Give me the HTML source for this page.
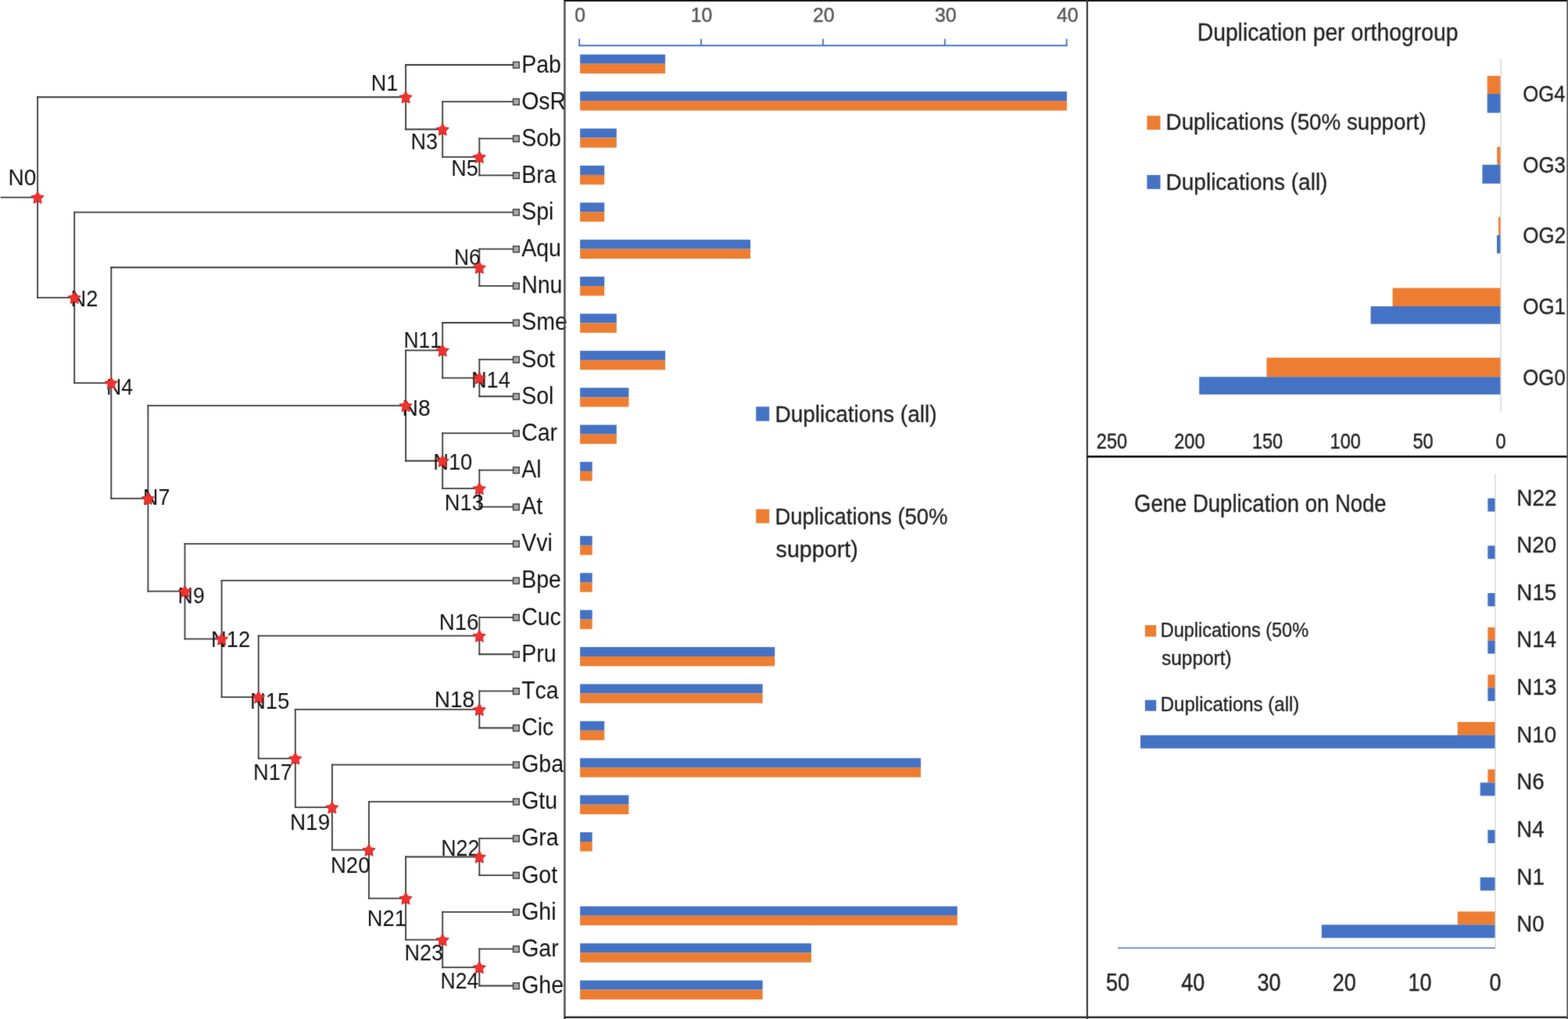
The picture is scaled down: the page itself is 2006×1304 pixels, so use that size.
<!DOCTYPE html>
<html><head><meta charset="utf-8"><title>Gene duplication figure</title>
<style>
html,body{margin:0;padding:0;background:#fff;}
body{width:2006px;height:1304px;overflow:hidden;}
svg{display:block;}
#wrap{width:2006px;height:1304px;}
text{font-family:"Liberation Sans",Arial,sans-serif;font-kerning:none;}
</style></head>
<body>
<div id="wrap">
<svg width="2006" height="1304" viewBox="0 0 2006 1304">
<defs><filter id="soft" x="0" y="0" width="1" height="1" color-interpolation-filters="sRGB"><feConvolveMatrix order="3" kernelMatrix="0.0144 0.0912 0.0144 0.0912 0.5776 0.0912 0.0144 0.0912 0.0144" edgeMode="duplicate"/></filter></defs>
<g filter="url(#soft)">
<rect width="2006" height="1304" fill="#fff"/>
<g stroke-linecap="square">
<line x1="1.50" y1="252.53" x2="48.10" y2="252.53" stroke="#383838" stroke-width="1.8"/>
<line x1="48.10" y1="124.25" x2="48.10" y2="380.81" stroke="#383838" stroke-width="1.8"/>
<line x1="48.10" y1="124.25" x2="519.10" y2="124.25" stroke="#383838" stroke-width="1.8"/>
<line x1="48.10" y1="380.81" x2="95.20" y2="380.81" stroke="#383838" stroke-width="1.8"/>
<line x1="519.10" y1="83.00" x2="519.10" y2="165.50" stroke="#383838" stroke-width="1.8"/>
<line x1="519.10" y1="83.00" x2="656.40" y2="83.00" stroke="#383838" stroke-width="1.8"/>
<line x1="519.10" y1="165.50" x2="566.20" y2="165.50" stroke="#383838" stroke-width="1.8"/>
<line x1="566.20" y1="130.14" x2="566.20" y2="200.85" stroke="#383838" stroke-width="1.8"/>
<line x1="566.20" y1="130.14" x2="656.40" y2="130.14" stroke="#383838" stroke-width="1.8"/>
<line x1="566.20" y1="200.85" x2="613.30" y2="200.85" stroke="#383838" stroke-width="1.8"/>
<line x1="613.30" y1="177.28" x2="613.30" y2="224.42" stroke="#383838" stroke-width="1.8"/>
<line x1="613.30" y1="177.28" x2="656.40" y2="177.28" stroke="#383838" stroke-width="1.8"/>
<line x1="613.30" y1="224.42" x2="656.40" y2="224.42" stroke="#383838" stroke-width="1.8"/>
<line x1="95.20" y1="271.56" x2="95.20" y2="490.07" stroke="#383838" stroke-width="1.8"/>
<line x1="95.20" y1="271.56" x2="656.40" y2="271.56" stroke="#383838" stroke-width="1.8"/>
<line x1="95.20" y1="490.07" x2="142.30" y2="490.07" stroke="#383838" stroke-width="1.8"/>
<line x1="142.30" y1="342.27" x2="142.30" y2="637.86" stroke="#383838" stroke-width="1.8"/>
<line x1="142.30" y1="342.27" x2="613.30" y2="342.27" stroke="#383838" stroke-width="1.8"/>
<line x1="142.30" y1="637.86" x2="189.40" y2="637.86" stroke="#383838" stroke-width="1.8"/>
<line x1="613.30" y1="318.70" x2="613.30" y2="365.84" stroke="#383838" stroke-width="1.8"/>
<line x1="613.30" y1="318.70" x2="656.40" y2="318.70" stroke="#383838" stroke-width="1.8"/>
<line x1="613.30" y1="365.84" x2="656.40" y2="365.84" stroke="#383838" stroke-width="1.8"/>
<line x1="189.40" y1="519.05" x2="189.40" y2="756.68" stroke="#383838" stroke-width="1.8"/>
<line x1="189.40" y1="519.05" x2="519.10" y2="519.05" stroke="#383838" stroke-width="1.8"/>
<line x1="189.40" y1="756.68" x2="236.50" y2="756.68" stroke="#383838" stroke-width="1.8"/>
<line x1="519.10" y1="448.34" x2="519.10" y2="589.75" stroke="#383838" stroke-width="1.8"/>
<line x1="519.10" y1="448.34" x2="566.20" y2="448.34" stroke="#383838" stroke-width="1.8"/>
<line x1="519.10" y1="589.75" x2="566.20" y2="589.75" stroke="#383838" stroke-width="1.8"/>
<line x1="566.20" y1="412.98" x2="566.20" y2="483.69" stroke="#383838" stroke-width="1.8"/>
<line x1="566.20" y1="412.98" x2="656.40" y2="412.98" stroke="#383838" stroke-width="1.8"/>
<line x1="566.20" y1="483.69" x2="613.30" y2="483.69" stroke="#383838" stroke-width="1.8"/>
<line x1="613.30" y1="460.12" x2="613.30" y2="507.26" stroke="#383838" stroke-width="1.8"/>
<line x1="613.30" y1="460.12" x2="656.40" y2="460.12" stroke="#383838" stroke-width="1.8"/>
<line x1="613.30" y1="507.26" x2="656.40" y2="507.26" stroke="#383838" stroke-width="1.8"/>
<line x1="566.20" y1="554.40" x2="566.20" y2="625.11" stroke="#383838" stroke-width="1.8"/>
<line x1="566.20" y1="554.40" x2="656.40" y2="554.40" stroke="#383838" stroke-width="1.8"/>
<line x1="566.20" y1="625.11" x2="613.30" y2="625.11" stroke="#383838" stroke-width="1.8"/>
<line x1="613.30" y1="601.54" x2="613.30" y2="648.68" stroke="#383838" stroke-width="1.8"/>
<line x1="613.30" y1="601.54" x2="656.40" y2="601.54" stroke="#383838" stroke-width="1.8"/>
<line x1="613.30" y1="648.68" x2="656.40" y2="648.68" stroke="#383838" stroke-width="1.8"/>
<line x1="236.50" y1="695.82" x2="236.50" y2="817.54" stroke="#383838" stroke-width="1.8"/>
<line x1="236.50" y1="695.82" x2="656.40" y2="695.82" stroke="#383838" stroke-width="1.8"/>
<line x1="236.50" y1="817.54" x2="283.60" y2="817.54" stroke="#383838" stroke-width="1.8"/>
<line x1="283.60" y1="742.96" x2="283.60" y2="892.11" stroke="#383838" stroke-width="1.8"/>
<line x1="283.60" y1="742.96" x2="656.40" y2="742.96" stroke="#383838" stroke-width="1.8"/>
<line x1="283.60" y1="892.11" x2="330.70" y2="892.11" stroke="#383838" stroke-width="1.8"/>
<line x1="330.70" y1="813.67" x2="330.70" y2="970.56" stroke="#383838" stroke-width="1.8"/>
<line x1="330.70" y1="813.67" x2="613.30" y2="813.67" stroke="#383838" stroke-width="1.8"/>
<line x1="330.70" y1="970.56" x2="377.80" y2="970.56" stroke="#383838" stroke-width="1.8"/>
<line x1="613.30" y1="790.10" x2="613.30" y2="837.24" stroke="#383838" stroke-width="1.8"/>
<line x1="613.30" y1="790.10" x2="656.40" y2="790.10" stroke="#383838" stroke-width="1.8"/>
<line x1="613.30" y1="837.24" x2="656.40" y2="837.24" stroke="#383838" stroke-width="1.8"/>
<line x1="377.80" y1="907.95" x2="377.80" y2="1033.17" stroke="#383838" stroke-width="1.8"/>
<line x1="377.80" y1="907.95" x2="613.30" y2="907.95" stroke="#383838" stroke-width="1.8"/>
<line x1="377.80" y1="1033.17" x2="424.90" y2="1033.17" stroke="#383838" stroke-width="1.8"/>
<line x1="613.30" y1="884.38" x2="613.30" y2="931.52" stroke="#383838" stroke-width="1.8"/>
<line x1="613.30" y1="884.38" x2="656.40" y2="884.38" stroke="#383838" stroke-width="1.8"/>
<line x1="613.30" y1="931.52" x2="656.40" y2="931.52" stroke="#383838" stroke-width="1.8"/>
<line x1="424.90" y1="978.66" x2="424.90" y2="1087.67" stroke="#383838" stroke-width="1.8"/>
<line x1="424.90" y1="978.66" x2="656.40" y2="978.66" stroke="#383838" stroke-width="1.8"/>
<line x1="424.90" y1="1087.67" x2="472.00" y2="1087.67" stroke="#383838" stroke-width="1.8"/>
<line x1="472.00" y1="1025.80" x2="472.00" y2="1149.54" stroke="#383838" stroke-width="1.8"/>
<line x1="472.00" y1="1025.80" x2="656.40" y2="1025.80" stroke="#383838" stroke-width="1.8"/>
<line x1="472.00" y1="1149.54" x2="519.10" y2="1149.54" stroke="#383838" stroke-width="1.8"/>
<line x1="519.10" y1="1096.51" x2="519.10" y2="1202.58" stroke="#383838" stroke-width="1.8"/>
<line x1="519.10" y1="1096.51" x2="613.30" y2="1096.51" stroke="#383838" stroke-width="1.8"/>
<line x1="519.10" y1="1202.58" x2="566.20" y2="1202.58" stroke="#383838" stroke-width="1.8"/>
<line x1="613.30" y1="1072.94" x2="613.30" y2="1120.08" stroke="#383838" stroke-width="1.8"/>
<line x1="613.30" y1="1072.94" x2="656.40" y2="1072.94" stroke="#383838" stroke-width="1.8"/>
<line x1="613.30" y1="1120.08" x2="656.40" y2="1120.08" stroke="#383838" stroke-width="1.8"/>
<line x1="566.20" y1="1167.22" x2="566.20" y2="1237.93" stroke="#383838" stroke-width="1.8"/>
<line x1="566.20" y1="1167.22" x2="656.40" y2="1167.22" stroke="#383838" stroke-width="1.8"/>
<line x1="566.20" y1="1237.93" x2="613.30" y2="1237.93" stroke="#383838" stroke-width="1.8"/>
<line x1="613.30" y1="1214.36" x2="613.30" y2="1261.50" stroke="#383838" stroke-width="1.8"/>
<line x1="613.30" y1="1214.36" x2="656.40" y2="1214.36" stroke="#383838" stroke-width="1.8"/>
<line x1="613.30" y1="1261.50" x2="656.40" y2="1261.50" stroke="#383838" stroke-width="1.8"/>
</g>
<rect x="656.50" y="79.30" width="7.8" height="7.8" fill="#aaa" stroke="#3a3a3a" stroke-width="1.4"/>
<rect x="656.50" y="126.44" width="7.8" height="7.8" fill="#aaa" stroke="#3a3a3a" stroke-width="1.4"/>
<rect x="656.50" y="173.58" width="7.8" height="7.8" fill="#aaa" stroke="#3a3a3a" stroke-width="1.4"/>
<rect x="656.50" y="220.72" width="7.8" height="7.8" fill="#aaa" stroke="#3a3a3a" stroke-width="1.4"/>
<rect x="656.50" y="267.86" width="7.8" height="7.8" fill="#aaa" stroke="#3a3a3a" stroke-width="1.4"/>
<rect x="656.50" y="315.00" width="7.8" height="7.8" fill="#aaa" stroke="#3a3a3a" stroke-width="1.4"/>
<rect x="656.50" y="362.14" width="7.8" height="7.8" fill="#aaa" stroke="#3a3a3a" stroke-width="1.4"/>
<rect x="656.50" y="409.28" width="7.8" height="7.8" fill="#aaa" stroke="#3a3a3a" stroke-width="1.4"/>
<rect x="656.50" y="456.42" width="7.8" height="7.8" fill="#aaa" stroke="#3a3a3a" stroke-width="1.4"/>
<rect x="656.50" y="503.56" width="7.8" height="7.8" fill="#aaa" stroke="#3a3a3a" stroke-width="1.4"/>
<rect x="656.50" y="550.70" width="7.8" height="7.8" fill="#aaa" stroke="#3a3a3a" stroke-width="1.4"/>
<rect x="656.50" y="597.84" width="7.8" height="7.8" fill="#aaa" stroke="#3a3a3a" stroke-width="1.4"/>
<rect x="656.50" y="644.98" width="7.8" height="7.8" fill="#aaa" stroke="#3a3a3a" stroke-width="1.4"/>
<rect x="656.50" y="692.12" width="7.8" height="7.8" fill="#aaa" stroke="#3a3a3a" stroke-width="1.4"/>
<rect x="656.50" y="739.26" width="7.8" height="7.8" fill="#aaa" stroke="#3a3a3a" stroke-width="1.4"/>
<rect x="656.50" y="786.40" width="7.8" height="7.8" fill="#aaa" stroke="#3a3a3a" stroke-width="1.4"/>
<rect x="656.50" y="833.54" width="7.8" height="7.8" fill="#aaa" stroke="#3a3a3a" stroke-width="1.4"/>
<rect x="656.50" y="880.68" width="7.8" height="7.8" fill="#aaa" stroke="#3a3a3a" stroke-width="1.4"/>
<rect x="656.50" y="927.82" width="7.8" height="7.8" fill="#aaa" stroke="#3a3a3a" stroke-width="1.4"/>
<rect x="656.50" y="974.96" width="7.8" height="7.8" fill="#aaa" stroke="#3a3a3a" stroke-width="1.4"/>
<rect x="656.50" y="1022.10" width="7.8" height="7.8" fill="#aaa" stroke="#3a3a3a" stroke-width="1.4"/>
<rect x="656.50" y="1069.24" width="7.8" height="7.8" fill="#aaa" stroke="#3a3a3a" stroke-width="1.4"/>
<rect x="656.50" y="1116.38" width="7.8" height="7.8" fill="#aaa" stroke="#3a3a3a" stroke-width="1.4"/>
<rect x="656.50" y="1163.52" width="7.8" height="7.8" fill="#aaa" stroke="#3a3a3a" stroke-width="1.4"/>
<rect x="656.50" y="1210.66" width="7.8" height="7.8" fill="#aaa" stroke="#3a3a3a" stroke-width="1.4"/>
<rect x="656.50" y="1257.80" width="7.8" height="7.8" fill="#aaa" stroke="#3a3a3a" stroke-width="1.4"/>
<text transform="translate(667.16 92.50) scale(0.92 1)" font-size="31.0" fill="#111">Pab</text>
<text transform="translate(667.16 139.64) scale(0.92 1)" font-size="31.0" fill="#111">OsR</text>
<text transform="translate(667.16 186.78) scale(0.92 1)" font-size="31.0" fill="#111">Sob</text>
<text transform="translate(667.16 233.92) scale(0.92 1)" font-size="31.0" fill="#111">Bra</text>
<text transform="translate(667.16 281.06) scale(0.92 1)" font-size="31.0" fill="#111">Spi</text>
<text transform="translate(667.16 328.20) scale(0.92 1)" font-size="31.0" fill="#111">Aqu</text>
<text transform="translate(667.16 375.34) scale(0.92 1)" font-size="31.0" fill="#111">Nnu</text>
<text transform="translate(667.16 422.48) scale(0.92 1)" font-size="31.0" fill="#111">Sme</text>
<text transform="translate(667.16 469.62) scale(0.92 1)" font-size="31.0" fill="#111">Sot</text>
<text transform="translate(667.16 516.76) scale(0.92 1)" font-size="31.0" fill="#111">Sol</text>
<text transform="translate(667.16 563.90) scale(0.92 1)" font-size="31.0" fill="#111">Car</text>
<text transform="translate(667.16 611.04) scale(0.92 1)" font-size="31.0" fill="#111">Al</text>
<text transform="translate(667.16 658.18) scale(0.92 1)" font-size="31.0" fill="#111">At</text>
<text transform="translate(667.16 705.32) scale(0.92 1)" font-size="31.0" fill="#111">Vvi</text>
<text transform="translate(667.16 752.46) scale(0.92 1)" font-size="31.0" fill="#111">Bpe</text>
<text transform="translate(667.16 799.60) scale(0.92 1)" font-size="31.0" fill="#111">Cuc</text>
<text transform="translate(667.16 846.74) scale(0.92 1)" font-size="31.0" fill="#111">Pru</text>
<text transform="translate(667.16 893.88) scale(0.92 1)" font-size="31.0" fill="#111">Tca</text>
<text transform="translate(667.16 941.02) scale(0.92 1)" font-size="31.0" fill="#111">Cic</text>
<text transform="translate(667.16 988.16) scale(0.92 1)" font-size="31.0" fill="#111">Gba</text>
<text transform="translate(667.16 1035.30) scale(0.92 1)" font-size="31.0" fill="#111">Gtu</text>
<text transform="translate(667.16 1082.44) scale(0.92 1)" font-size="31.0" fill="#111">Gra</text>
<text transform="translate(667.16 1129.58) scale(0.92 1)" font-size="31.0" fill="#111">Got</text>
<text transform="translate(667.16 1176.72) scale(0.92 1)" font-size="31.0" fill="#111">Ghi</text>
<text transform="translate(667.16 1223.86) scale(0.92 1)" font-size="31.0" fill="#111">Gar</text>
<text transform="translate(667.16 1271.00) scale(0.92 1)" font-size="31.0" fill="#111">Ghe</text>
<text transform="translate(10.40 236.80) scale(0.9520 1)" font-size="29.50" fill="#111">N0</text>
<text transform="translate(474.78 116.00) scale(0.9158 1)" font-size="29.50" fill="#111">N1</text>
<text transform="translate(90.57 392.30) scale(0.9229 1)" font-size="29.50" fill="#111">N2</text>
<text transform="translate(525.39 190.50) scale(0.9149 1)" font-size="29.50" fill="#111">N3</text>
<text transform="translate(135.91 504.80) scale(0.9034 1)" font-size="29.50" fill="#111">N4</text>
<text transform="translate(577.19 225.40) scale(0.9133 1)" font-size="29.50" fill="#111">N5</text>
<text transform="translate(580.94 339.00) scale(0.8913 1)" font-size="29.50" fill="#111">N6</text>
<text transform="translate(183.10 646.00) scale(0.9081 1)" font-size="29.50" fill="#111">N7</text>
<text transform="translate(514.48 531.60) scale(0.9586 1)" font-size="29.50" fill="#111">N8</text>
<text transform="translate(227.61 771.80) scale(0.9058 1)" font-size="29.50" fill="#111">N9</text>
<text transform="translate(554.15 601.00) scale(0.9279 1)" font-size="29.50" fill="#111">N10</text>
<text transform="translate(516.53 445.40) scale(0.8954 1)" font-size="29.50" fill="#111">N11</text>
<text transform="translate(270.06 827.80) scale(0.9260 1)" font-size="29.50" fill="#111">N12</text>
<text transform="translate(568.86 653.40) scale(0.9246 1)" font-size="29.50" fill="#111">N13</text>
<text transform="translate(602.97 495.50) scale(0.9226 1)" font-size="29.50" fill="#111">N14</text>
<text transform="translate(319.95 906.60) scale(0.9315 1)" font-size="29.50" fill="#111">N15</text>
<text transform="translate(561.73 805.90) scale(0.9385 1)" font-size="29.50" fill="#111">N16</text>
<text transform="translate(323.96 997.90) scale(0.9241 1)" font-size="29.50" fill="#111">N17</text>
<text transform="translate(555.80 905.20) scale(0.9501 1)" font-size="29.50" fill="#111">N18</text>
<text transform="translate(370.91 1062.30) scale(0.9483 1)" font-size="29.50" fill="#111">N19</text>
<text transform="translate(422.94 1117.00) scale(0.9338 1)" font-size="29.50" fill="#111">N20</text>
<text transform="translate(469.76 1184.70) scale(0.9272 1)" font-size="29.50" fill="#111">N21</text>
<text transform="translate(564.20 1094.50) scale(0.9081 1)" font-size="29.50" fill="#111">N22</text>
<text transform="translate(517.38 1229.30) scale(0.9167 1)" font-size="29.50" fill="#111">N23</text>
<text transform="translate(563.62 1264.50) scale(0.8990 1)" font-size="29.50" fill="#111">N24</text>
<polygon points="48.10,244.83 50.70,249.75 56.18,250.70 52.30,254.70 53.10,260.21 48.10,257.75 43.10,260.21 43.90,254.70 40.02,250.70 45.50,249.75" fill="#ee3430" stroke="#d41a1a" stroke-width="0.9" stroke-linejoin="miter"/>
<polygon points="519.10,116.55 521.70,121.47 527.18,122.42 523.30,126.41 524.10,131.92 519.10,129.47 514.10,131.92 514.90,126.41 511.02,122.42 516.50,121.47" fill="#ee3430" stroke="#d41a1a" stroke-width="0.9" stroke-linejoin="miter"/>
<polygon points="566.20,157.80 568.80,162.72 574.28,163.67 570.40,167.66 571.20,173.17 566.20,170.72 561.20,173.17 562.00,167.66 558.12,163.67 563.60,162.72" fill="#ee3430" stroke="#d41a1a" stroke-width="0.9" stroke-linejoin="miter"/>
<polygon points="613.30,193.15 615.90,198.07 621.38,199.02 617.50,203.02 618.30,208.53 613.30,206.07 608.30,208.53 609.10,203.02 605.22,199.02 610.70,198.07" fill="#ee3430" stroke="#d41a1a" stroke-width="0.9" stroke-linejoin="miter"/>
<polygon points="95.20,373.11 97.80,378.04 103.28,378.99 99.40,382.98 100.20,388.49 95.20,386.03 90.20,388.49 91.00,382.98 87.12,378.99 92.60,378.04" fill="#ee3430" stroke="#d41a1a" stroke-width="0.9" stroke-linejoin="miter"/>
<polygon points="142.30,482.37 144.90,487.29 150.38,488.24 146.50,492.23 147.30,497.74 142.30,495.29 137.30,497.74 138.10,492.23 134.22,488.24 139.70,487.29" fill="#ee3430" stroke="#d41a1a" stroke-width="0.9" stroke-linejoin="miter"/>
<polygon points="613.30,334.57 615.90,339.49 621.38,340.44 617.50,344.44 618.30,349.95 613.30,347.49 608.30,349.95 609.10,344.44 605.22,340.44 610.70,339.49" fill="#ee3430" stroke="#d41a1a" stroke-width="0.9" stroke-linejoin="miter"/>
<polygon points="189.40,630.16 192.00,635.09 197.48,636.04 193.60,640.03 194.40,645.54 189.40,643.08 184.40,645.54 185.20,640.03 181.32,636.04 186.80,635.09" fill="#ee3430" stroke="#d41a1a" stroke-width="0.9" stroke-linejoin="miter"/>
<polygon points="519.10,511.35 521.70,516.27 527.18,517.22 523.30,521.21 524.10,526.72 519.10,524.26 514.10,526.72 514.90,521.21 511.02,517.22 516.50,516.27" fill="#ee3430" stroke="#d41a1a" stroke-width="0.9" stroke-linejoin="miter"/>
<polygon points="566.20,440.64 568.80,445.56 574.28,446.51 570.40,450.50 571.20,456.01 566.20,453.56 561.20,456.01 562.00,450.50 558.12,446.51 563.60,445.56" fill="#ee3430" stroke="#d41a1a" stroke-width="0.9" stroke-linejoin="miter"/>
<polygon points="613.30,475.99 615.90,480.91 621.38,481.86 617.50,485.86 618.30,491.37 613.30,488.91 608.30,491.37 609.10,485.86 605.22,481.86 610.70,480.91" fill="#ee3430" stroke="#d41a1a" stroke-width="0.9" stroke-linejoin="miter"/>
<polygon points="566.20,582.05 568.80,586.98 574.28,587.93 570.40,591.92 571.20,597.43 566.20,594.97 561.20,597.43 562.00,591.92 558.12,587.93 563.60,586.98" fill="#ee3430" stroke="#d41a1a" stroke-width="0.9" stroke-linejoin="miter"/>
<polygon points="613.30,617.41 615.90,622.33 621.38,623.28 617.50,627.28 618.30,632.79 613.30,630.33 608.30,632.79 609.10,627.28 605.22,623.28 610.70,622.33" fill="#ee3430" stroke="#d41a1a" stroke-width="0.9" stroke-linejoin="miter"/>
<polygon points="236.50,748.98 239.10,753.90 244.58,754.85 240.70,758.84 241.50,764.36 236.50,761.90 231.50,764.36 232.30,758.84 228.42,754.85 233.90,753.90" fill="#ee3430" stroke="#d41a1a" stroke-width="0.9" stroke-linejoin="miter"/>
<polygon points="283.60,809.84 286.20,814.76 291.68,815.71 287.80,819.70 288.60,825.21 283.60,822.76 278.60,825.21 279.40,819.70 275.52,815.71 281.00,814.76" fill="#ee3430" stroke="#d41a1a" stroke-width="0.9" stroke-linejoin="miter"/>
<polygon points="330.70,884.41 333.30,889.34 338.78,890.29 334.90,894.28 335.70,899.79 330.70,897.33 325.70,899.79 326.50,894.28 322.62,890.29 328.10,889.34" fill="#ee3430" stroke="#d41a1a" stroke-width="0.9" stroke-linejoin="miter"/>
<polygon points="613.30,805.97 615.90,810.89 621.38,811.84 617.50,815.84 618.30,821.35 613.30,818.89 608.30,821.35 609.10,815.84 605.22,811.84 610.70,810.89" fill="#ee3430" stroke="#d41a1a" stroke-width="0.9" stroke-linejoin="miter"/>
<polygon points="377.80,962.86 380.40,967.78 385.88,968.73 382.00,972.72 382.80,978.23 377.80,975.78 372.80,978.23 373.60,972.72 369.72,968.73 375.20,967.78" fill="#ee3430" stroke="#d41a1a" stroke-width="0.9" stroke-linejoin="miter"/>
<polygon points="613.30,900.25 615.90,905.17 621.38,906.12 617.50,910.12 618.30,915.63 613.30,913.17 608.30,915.63 609.10,910.12 605.22,906.12 610.70,905.17" fill="#ee3430" stroke="#d41a1a" stroke-width="0.9" stroke-linejoin="miter"/>
<polygon points="424.90,1025.47 427.50,1030.39 432.98,1031.34 429.10,1035.33 429.90,1040.84 424.90,1038.39 419.90,1040.84 420.70,1035.33 416.82,1031.34 422.30,1030.39" fill="#ee3430" stroke="#d41a1a" stroke-width="0.9" stroke-linejoin="miter"/>
<polygon points="472.00,1079.97 474.60,1084.90 480.08,1085.84 476.20,1089.84 477.00,1095.35 472.00,1092.89 467.00,1095.35 467.80,1089.84 463.92,1085.84 469.40,1084.90" fill="#ee3430" stroke="#d41a1a" stroke-width="0.9" stroke-linejoin="miter"/>
<polygon points="519.10,1141.84 521.70,1146.77 527.18,1147.72 523.30,1151.71 524.10,1157.22 519.10,1154.76 514.10,1157.22 514.90,1151.71 511.02,1147.72 516.50,1146.77" fill="#ee3430" stroke="#d41a1a" stroke-width="0.9" stroke-linejoin="miter"/>
<polygon points="613.30,1088.81 615.90,1093.73 621.38,1094.68 617.50,1098.68 618.30,1104.19 613.30,1101.73 608.30,1104.19 609.10,1098.68 605.22,1094.68 610.70,1093.73" fill="#ee3430" stroke="#d41a1a" stroke-width="0.9" stroke-linejoin="miter"/>
<polygon points="566.20,1194.88 568.80,1199.80 574.28,1200.75 570.40,1204.74 571.20,1210.25 566.20,1207.80 561.20,1210.25 562.00,1204.74 558.12,1200.75 563.60,1199.80" fill="#ee3430" stroke="#d41a1a" stroke-width="0.9" stroke-linejoin="miter"/>
<polygon points="613.30,1230.23 615.90,1235.15 621.38,1236.10 617.50,1240.10 618.30,1245.61 613.30,1243.15 608.30,1245.61 609.10,1240.10 605.22,1236.10 610.70,1235.15" fill="#ee3430" stroke="#d41a1a" stroke-width="0.9" stroke-linejoin="miter"/>
<rect x="721.20" y="0.00" width="2.40" height="1304.00" fill="#4a4a4a"/>
<rect x="722.00" y="0.00" width="1284.00" height="1.90" fill="#0a0a0a"/>
<rect x="722.00" y="1300.60" width="1284.00" height="2.40" fill="#222"/>
<rect x="1389.80" y="0.00" width="2.20" height="1304.00" fill="#3a3a3a"/>
<rect x="1391.00" y="583.00" width="615.00" height="2.60" fill="#080808"/>
<rect x="2004.40" y="0.00" width="1.60" height="1304.00" fill="#555"/>
<rect x="742.10" y="69.70" width="108.99" height="12.00" fill="#4472C4"/>
<rect x="742.10" y="81.70" width="108.99" height="12.40" fill="#ED7D31"/>
<rect x="742.10" y="117.10" width="622.80" height="12.00" fill="#4472C4"/>
<rect x="742.10" y="129.10" width="622.80" height="12.40" fill="#ED7D31"/>
<rect x="742.10" y="164.49" width="46.71" height="12.00" fill="#4472C4"/>
<rect x="742.10" y="176.49" width="46.71" height="12.40" fill="#ED7D31"/>
<rect x="742.10" y="211.89" width="31.14" height="12.00" fill="#4472C4"/>
<rect x="742.10" y="223.89" width="31.14" height="12.40" fill="#ED7D31"/>
<rect x="742.10" y="259.28" width="31.14" height="12.00" fill="#4472C4"/>
<rect x="742.10" y="271.28" width="31.14" height="12.40" fill="#ED7D31"/>
<rect x="742.10" y="306.68" width="217.98" height="12.00" fill="#4472C4"/>
<rect x="742.10" y="318.68" width="217.98" height="12.40" fill="#ED7D31"/>
<rect x="742.10" y="354.08" width="31.14" height="12.00" fill="#4472C4"/>
<rect x="742.10" y="366.08" width="31.14" height="12.40" fill="#ED7D31"/>
<rect x="742.10" y="401.47" width="46.71" height="12.00" fill="#4472C4"/>
<rect x="742.10" y="413.47" width="46.71" height="12.40" fill="#ED7D31"/>
<rect x="742.10" y="448.87" width="108.99" height="12.00" fill="#4472C4"/>
<rect x="742.10" y="460.87" width="108.99" height="12.40" fill="#ED7D31"/>
<rect x="742.10" y="496.26" width="62.28" height="12.00" fill="#4472C4"/>
<rect x="742.10" y="508.26" width="62.28" height="12.40" fill="#ED7D31"/>
<rect x="742.10" y="543.66" width="46.71" height="12.00" fill="#4472C4"/>
<rect x="742.10" y="555.66" width="46.71" height="12.40" fill="#ED7D31"/>
<rect x="742.10" y="591.06" width="15.57" height="12.00" fill="#4472C4"/>
<rect x="742.10" y="603.06" width="15.57" height="12.40" fill="#ED7D31"/>
<rect x="742.10" y="685.85" width="15.57" height="12.00" fill="#4472C4"/>
<rect x="742.10" y="697.85" width="15.57" height="12.40" fill="#ED7D31"/>
<rect x="742.10" y="733.24" width="15.57" height="12.00" fill="#4472C4"/>
<rect x="742.10" y="745.24" width="15.57" height="12.40" fill="#ED7D31"/>
<rect x="742.10" y="780.64" width="15.57" height="12.00" fill="#4472C4"/>
<rect x="742.10" y="792.64" width="15.57" height="12.40" fill="#ED7D31"/>
<rect x="742.10" y="828.04" width="249.12" height="12.00" fill="#4472C4"/>
<rect x="742.10" y="840.04" width="249.12" height="12.40" fill="#ED7D31"/>
<rect x="742.10" y="875.43" width="233.55" height="12.00" fill="#4472C4"/>
<rect x="742.10" y="887.43" width="233.55" height="12.40" fill="#ED7D31"/>
<rect x="742.10" y="922.83" width="31.14" height="12.00" fill="#4472C4"/>
<rect x="742.10" y="934.83" width="31.14" height="12.40" fill="#ED7D31"/>
<rect x="742.10" y="970.22" width="435.96" height="12.00" fill="#4472C4"/>
<rect x="742.10" y="982.22" width="435.96" height="12.40" fill="#ED7D31"/>
<rect x="742.10" y="1017.62" width="62.28" height="12.00" fill="#4472C4"/>
<rect x="742.10" y="1029.62" width="62.28" height="12.40" fill="#ED7D31"/>
<rect x="742.10" y="1065.02" width="15.57" height="12.00" fill="#4472C4"/>
<rect x="742.10" y="1077.02" width="15.57" height="12.40" fill="#ED7D31"/>
<rect x="742.10" y="1159.81" width="482.67" height="12.00" fill="#4472C4"/>
<rect x="742.10" y="1171.81" width="482.67" height="12.40" fill="#ED7D31"/>
<rect x="742.10" y="1207.20" width="295.83" height="12.00" fill="#4472C4"/>
<rect x="742.10" y="1219.20" width="295.83" height="12.40" fill="#ED7D31"/>
<rect x="742.10" y="1254.60" width="233.55" height="12.00" fill="#4472C4"/>
<rect x="742.10" y="1266.60" width="233.55" height="12.40" fill="#ED7D31"/>
<rect x="740.30" y="57.30" width="625.20" height="2.00" fill="#4472C4"/>
<rect x="740.30" y="49.70" width="1.80" height="9.30" fill="#4472C4"/>
<rect x="896.15" y="49.70" width="1.80" height="9.30" fill="#4472C4"/>
<rect x="1052.00" y="49.70" width="1.80" height="9.30" fill="#4472C4"/>
<rect x="1207.85" y="49.70" width="1.80" height="9.30" fill="#4472C4"/>
<rect x="1363.70" y="49.70" width="1.80" height="9.30" fill="#4472C4"/>
<text transform="translate(735.32 27.90) scale(0.9300 1)" font-size="26.60" fill="#595959" stroke="#595959" stroke-width="0.5">0</text>
<text transform="translate(883.83 27.90) scale(0.9300 1)" font-size="26.60" fill="#595959" stroke="#595959" stroke-width="0.5">10</text>
<text transform="translate(1040.00 27.90) scale(0.9300 1)" font-size="26.60" fill="#595959" stroke="#595959" stroke-width="0.5">20</text>
<text transform="translate(1196.00 27.90) scale(0.9300 1)" font-size="26.60" fill="#595959" stroke="#595959" stroke-width="0.5">30</text>
<text transform="translate(1352.04 27.90) scale(0.9300 1)" font-size="26.60" fill="#595959" stroke="#595959" stroke-width="0.5">40</text>
<rect x="967.20" y="520.40" width="17.00" height="18.40" fill="#4472C4"/>
<text transform="translate(991.40 539.70) scale(0.9499 1)" font-size="29.50" fill="#222" stroke="#222" stroke-width="0.3">Duplications (all)</text>
<rect x="967.20" y="651.60" width="17.00" height="17.90" fill="#ED7D31"/>
<text transform="translate(991.45 671.30) scale(0.9296 1)" font-size="29.50" fill="#222" stroke="#222" stroke-width="0.3">Duplications (50%</text>
<text transform="translate(992.60 712.70) scale(0.9719 1)" font-size="29.50" fill="#222" stroke="#222" stroke-width="0.3">support)</text>
<text transform="translate(1531.68 51.70) scale(0.9287 1)" font-size="30.50" fill="#222" stroke="#222" stroke-width="0.3">Duplication per orthogroup</text>
<rect x="1467.40" y="148.20" width="17.10" height="17.80" fill="#ED7D31"/>
<text transform="translate(1491.62 166.00) scale(0.9408 1)" font-size="29.50" fill="#222" stroke="#222" stroke-width="0.3">Duplications (50% support)</text>
<rect x="1467.40" y="224.00" width="17.10" height="17.90" fill="#4472C4"/>
<text transform="translate(1491.60 242.80) scale(0.9485 1)" font-size="29.50" fill="#222" stroke="#222" stroke-width="0.3">Duplications (all)</text>
<rect x="1902.70" y="97.10" width="17.10" height="23.00" fill="#ED7D31"/>
<rect x="1902.70" y="120.10" width="17.10" height="24.30" fill="#4472C4"/>
<text transform="translate(1948.28 130.40) scale(0.8861 1)" font-size="29.00" fill="#222" stroke="#222" stroke-width="0.3">OG4</text>
<rect x="1915.20" y="188.00" width="4.60" height="22.80" fill="#ED7D31"/>
<rect x="1896.40" y="210.80" width="23.40" height="24.10" fill="#4472C4"/>
<text transform="translate(1948.27 221.10) scale(0.8926 1)" font-size="29.00" fill="#222" stroke="#222" stroke-width="0.3">OG3</text>
<rect x="1917.00" y="277.70" width="2.80" height="23.30" fill="#ED7D31"/>
<rect x="1915.00" y="301.00" width="4.80" height="23.20" fill="#4472C4"/>
<text transform="translate(1948.27 311.30) scale(0.8954 1)" font-size="29.00" fill="#222" stroke="#222" stroke-width="0.3">OG2</text>
<rect x="1781.60" y="368.50" width="138.20" height="23.50" fill="#ED7D31"/>
<rect x="1753.60" y="392.00" width="166.20" height="22.60" fill="#4472C4"/>
<text transform="translate(1948.27 402.30) scale(0.8947 1)" font-size="29.00" fill="#222" stroke="#222" stroke-width="0.3">OG1</text>
<rect x="1620.40" y="457.70" width="299.40" height="24.60" fill="#ED7D31"/>
<rect x="1534.20" y="482.30" width="385.60" height="22.50" fill="#4472C4"/>
<text transform="translate(1948.28 492.60) scale(0.8904 1)" font-size="29.00" fill="#222" stroke="#222" stroke-width="0.3">OG0</text>
<rect x="1919.40" y="75.00" width="1.20" height="452.00" fill="#d0d0d0"/>
<text transform="translate(1402.81 573.70) scale(0.8630 1)" font-size="27.30" fill="#222" stroke="#222" stroke-width="0.4">250</text>
<text transform="translate(1502.21 573.70) scale(0.8630 1)" font-size="27.30" fill="#222" stroke="#222" stroke-width="0.4">200</text>
<text transform="translate(1601.91 573.70) scale(0.8630 1)" font-size="27.30" fill="#222" stroke="#222" stroke-width="0.4">150</text>
<text transform="translate(1701.61 573.70) scale(0.8630 1)" font-size="27.30" fill="#222" stroke="#222" stroke-width="0.4">100</text>
<text transform="translate(1807.49 573.70) scale(0.8630 1)" font-size="27.30" fill="#222" stroke="#222" stroke-width="0.4">50</text>
<text transform="translate(1913.45 573.70) scale(0.8630 1)" font-size="27.30" fill="#222" stroke="#222" stroke-width="0.4">0</text>
<text transform="translate(1451.02 654.90) scale(0.9023 1)" font-size="30.50" fill="#222" stroke="#222" stroke-width="0.3">Gene Duplication on Node</text>
<rect x="1903.34" y="637.70" width="9.66" height="16.90" fill="#4472C4"/>
<text transform="translate(1940.31 646.50) scale(0.9260 1)" font-size="30.20" fill="#222" stroke="#222" stroke-width="0.3">N22</text>
<rect x="1903.34" y="698.33" width="9.66" height="16.90" fill="#4472C4"/>
<text transform="translate(1940.32 707.13) scale(0.9199 1)" font-size="30.20" fill="#222" stroke="#222" stroke-width="0.3">N20</text>
<rect x="1903.34" y="758.96" width="9.66" height="16.90" fill="#4472C4"/>
<text transform="translate(1940.32 767.76) scale(0.9215 1)" font-size="30.20" fill="#222" stroke="#222" stroke-width="0.3">N15</text>
<rect x="1903.34" y="802.69" width="9.66" height="16.90" fill="#ED7D31"/>
<rect x="1903.34" y="819.59" width="9.66" height="16.90" fill="#4472C4"/>
<text transform="translate(1940.33 828.39) scale(0.9147 1)" font-size="30.20" fill="#222" stroke="#222" stroke-width="0.3">N14</text>
<rect x="1903.34" y="863.32" width="9.66" height="16.90" fill="#ED7D31"/>
<rect x="1903.34" y="880.22" width="9.66" height="16.90" fill="#4472C4"/>
<text transform="translate(1940.31 889.02) scale(0.9225 1)" font-size="30.20" fill="#222" stroke="#222" stroke-width="0.3">N13</text>
<rect x="1864.70" y="923.95" width="48.30" height="16.90" fill="#ED7D31"/>
<rect x="1458.98" y="940.85" width="454.02" height="16.90" fill="#4472C4"/>
<text transform="translate(1940.32 949.65) scale(0.9199 1)" font-size="30.20" fill="#222" stroke="#222" stroke-width="0.3">N10</text>
<rect x="1903.34" y="984.58" width="9.66" height="16.90" fill="#ED7D31"/>
<rect x="1893.68" y="1001.48" width="19.32" height="16.90" fill="#4472C4"/>
<text transform="translate(1940.32 1010.28) scale(0.9195 1)" font-size="30.20" fill="#222" stroke="#222" stroke-width="0.3">N6</text>
<rect x="1903.34" y="1062.11" width="9.66" height="16.90" fill="#4472C4"/>
<text transform="translate(1940.35 1070.91) scale(0.9080 1)" font-size="30.20" fill="#222" stroke="#222" stroke-width="0.3">N4</text>
<rect x="1893.68" y="1122.74" width="19.32" height="16.90" fill="#4472C4"/>
<text transform="translate(1940.31 1131.54) scale(0.9234 1)" font-size="30.20" fill="#222" stroke="#222" stroke-width="0.3">N1</text>
<rect x="1864.70" y="1166.47" width="48.30" height="16.90" fill="#ED7D31"/>
<rect x="1690.82" y="1183.37" width="222.18" height="16.90" fill="#4472C4"/>
<text transform="translate(1940.33 1192.17) scale(0.9156 1)" font-size="30.20" fill="#222" stroke="#222" stroke-width="0.3">N0</text>
<rect x="1912.40" y="606.50" width="1.20" height="605.50" fill="#d0d0d0"/>
<rect x="1430.00" y="1212.20" width="483.00" height="1.90" fill="#6a8fd0"/>
<text transform="translate(1414.96 1267.70) scale(0.8550 1)" font-size="31.60" fill="#222" stroke="#222" stroke-width="0.4">50</text>
<text transform="translate(1511.19 1267.70) scale(0.8550 1)" font-size="31.60" fill="#222" stroke="#222" stroke-width="0.4">40</text>
<text transform="translate(1608.39 1267.70) scale(0.8550 1)" font-size="31.60" fill="#222" stroke="#222" stroke-width="0.4">30</text>
<text transform="translate(1704.82 1267.70) scale(0.8550 1)" font-size="31.60" fill="#222" stroke="#222" stroke-width="0.4">20</text>
<text transform="translate(1801.47 1267.70) scale(0.8550 1)" font-size="31.60" fill="#222" stroke="#222" stroke-width="0.4">10</text>
<text transform="translate(1905.49 1267.70) scale(0.8550 1)" font-size="31.60" fill="#222" stroke="#222" stroke-width="0.4">0</text>
<rect x="1464.90" y="800.00" width="14.30" height="14.70" fill="#ED7D31"/>
<text transform="translate(1484.77 814.70) scale(0.9398 1)" font-size="25.00" fill="#222" stroke="#222" stroke-width="0.35">Duplications (50%</text>
<text transform="translate(1486.02 850.80) scale(0.9769 1)" font-size="25.00" fill="#222" stroke="#222" stroke-width="0.35">support)</text>
<rect x="1464.90" y="895.80" width="14.30" height="14.00" fill="#4472C4"/>
<text transform="translate(1484.73 909.60) scale(0.9614 1)" font-size="25.00" fill="#222" stroke="#222" stroke-width="0.35">Duplications (all)</text>
</g>
</svg>
</div>
</body></html>
